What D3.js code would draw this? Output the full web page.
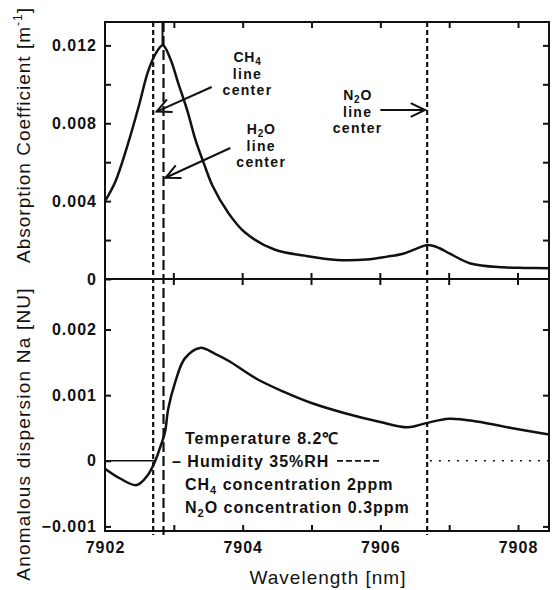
<!DOCTYPE html>
<html>
<head>
<meta charset="utf-8">
<script src="https://cdn.jsdelivr.net/npm/d3@7"></script>
<style>
  body { margin: 0; background: #fff; }
  svg { display: block; }
  text { font-family: "Liberation Sans", Arial, sans-serif; fill: #111; }
</style>
</head>
<body>
<svg id="chart"></svg>
<script>
// wavelength axis
const xTicks = [7902, 7903, 7904, 7905, 7906, 7907, 7908];
const xTickLabels = [7902, 7904, 7906, 7908];

// top panel: absorption coefficient [m^-1]
const absWavelength = [7902.0, 7902.15, 7902.33, 7902.5, 7902.62, 7902.74, 7902.84, 7902.95, 7903.06, 7903.2,
  7903.31, 7903.44, 7903.56, 7903.79, 7904.03, 7904.47, 7904.9, 7905.37, 7905.8, 7906.1,
  7906.33, 7906.52, 7906.69, 7906.86, 7907.01, 7907.31, 7907.78, 7908.1, 7908.45];
const absCoef = [0.0040, 0.0050, 0.0069, 0.0090, 0.0106, 0.0116, 0.0120, 0.0113, 0.0101, 0.0086,
  0.0072, 0.0059, 0.0048, 0.0034, 0.0024, 0.0015, 0.0012, 0.00098, 0.0010, 0.00115,
  0.0013, 0.00155, 0.00174, 0.00158, 0.0013, 0.0008, 0.0006, 0.00057, 0.00055];
const absTicks = [0, 0.004, 0.008, 0.012];
const absMinorTicks = [0.002, 0.006, 0.010];

// bottom panel: anomalous dispersion Na [NU]
const dispWavelength = [7902.0, 7902.22, 7902.46, 7902.62, 7902.73, 7902.8, 7902.87, 7902.92, 7903.02, 7903.16,
  7903.38, 7903.6, 7903.8, 7904.2, 7904.6, 7905.0, 7905.5, 7906.0, 7906.4, 7906.65,
  7907.0, 7907.4, 7907.9, 7908.45];
const anomDisp = [-0.00012, -0.00027, -0.00037, -0.00022, 0.0, 0.0002, 0.00043, 0.0008, 0.0012, 0.00156,
  0.00172, 0.00163, 0.00152, 0.00125, 0.00105, 0.00088, 0.00072, 0.00059, 0.00051, 0.00057,
  0.00064, 0.0006, 0.0005, 0.0004];
const dispTicks = [-0.001, 0, 0.001, 0.002];

// line centers
const lineNames = ["CH4", "H2O", "N2O"];
const lineCenters = [7902.70, 7902.85, 7906.68];
const lineDash = ["5,3", "10,4", "5,3"];

// measurement conditions
const conditionLines = [["Temperature 8.2℃"], ["– Humidity 35%RH"], ["CH", "4", " concentration 2ppm"], ["N", "2", "O concentration 0.3ppm"]];

const width = 553, height = 590;
const pLeft = 105, pRight = 549, pTop = 22, pMid = 279, pBottom = 531;

const svg = d3.select("#chart").attr("width", width).attr("height", height);

const x = d3.scaleLinear().domain([7902, 7908.45]).range([pLeft, pRight]);
const yAbs = d3.scaleLinear().domain([0, 0.0132]).range([pMid, pTop]);
const yDisp = d3.scaleLinear().domain([-0.00107, 0.00277]).range([pBottom, pMid]);

const fmt = d => d === 0 ? "0" : d3.format(".3f")(d);

function styleAxis(g) {
  g.select(".domain").remove();
  g.selectAll(".tick line").attr("stroke", "#111").attr("stroke-width", 2);
  g.selectAll(".tick text").attr("font-size", 16).attr("font-weight", "bold")
    .attr("letter-spacing", 1).attr("fill", "#111")
    .style("font-family", '"Liberation Sans", Arial, sans-serif');
}

// left axes (ticks inward)
svg.append("g").attr("transform", `translate(${pLeft},0)`)
  .call(d3.axisLeft(yAbs).tickValues(absTicks).tickSize(-6).tickPadding(8).tickFormat(fmt)).call(styleAxis);
svg.append("g").attr("transform", `translate(${pLeft},0)`)
  .call(d3.axisLeft(yAbs).tickValues(absMinorTicks).tickSize(-6).tickFormat("")).call(styleAxis);
svg.append("g").attr("transform", `translate(${pLeft},0)`)
  .call(d3.axisLeft(yDisp).tickValues(dispTicks).tickSize(-6).tickPadding(8).tickFormat(fmt)).call(styleAxis);

// right axes
svg.append("g").attr("transform", `translate(${pRight},0)`)
  .call(d3.axisRight(yAbs).tickValues(absTicks.concat(absMinorTicks).filter(d => d > 0)).tickSize(-6).tickFormat("")).call(styleAxis);
svg.append("g").attr("transform", `translate(${pRight},0)`)
  .call(d3.axisRight(yDisp).tickValues(dispTicks.filter(d => d !== 0)).tickSize(-6).tickFormat("")).call(styleAxis);

// top and bottom axes
svg.append("g").attr("transform", `translate(0,${pTop})`)
  .call(d3.axisTop(x).tickValues(xTicks.slice(1)).tickSize(-6).tickFormat("")).call(styleAxis);
svg.append("g").attr("transform", `translate(0,${pBottom})`)
  .call(d3.axisBottom(x).tickValues(xTicks.slice(1)).tickSize(-6).tickFormat("")).call(styleAxis);
svg.append("g").attr("transform", `translate(0,${pBottom})`)
  .call(d3.axisBottom(x).tickValues(xTickLabels).tickSize(0).tickPadding(11).tickFormat(d3.format("d"))).call(styleAxis);

// panel boundary ticks cross both ways
svg.append("g").selectAll("line").data(xTicks.slice(1)).join("line")
  .attr("x1", d => x(d)).attr("x2", d => x(d))
  .attr("y1", pMid - 6).attr("y2", pMid + 6)
  .attr("stroke", "#111").attr("stroke-width", 2);

// frames
svg.append("rect").attr("x", pLeft).attr("y", pTop).attr("width", pRight - pLeft).attr("height", pBottom - pTop)
  .attr("fill", "none").attr("stroke", "#111").attr("stroke-width", 2);
svg.append("line").attr("x1", pLeft).attr("x2", pRight).attr("y1", pMid).attr("y2", pMid)
  .attr("stroke", "#111").attr("stroke-width", 2);

// zero reference in lower panel
const zeroSegs = [[7902, 7902.72, null], [7905.37, 7906.0, "6,3"], [7906.72, 7908.45, "2,7"]];
svg.append("g").selectAll("line").data(zeroSegs).join("line")
  .attr("x1", d => x(d[0])).attr("x2", d => x(d[1]))
  .attr("y1", yDisp(0)).attr("y2", yDisp(0))
  .attr("stroke", "#111").attr("stroke-width", 1.5)
  .attr("stroke-dasharray", d => d[2]);

// line center markers
svg.append("g").selectAll("line").data(lineCenters).join("line")
  .attr("x1", d => x(d)).attr("x2", d => x(d))
  .attr("y1", pTop).attr("y2", pBottom + 4)
  .attr("stroke", "#111").attr("stroke-width", 2.2)
  .attr("stroke-dasharray", (d, i) => lineDash[i]);
// solid piece above the absorption peak
svg.append("line").attr("x1", x(lineCenters[1]) - 1).attr("x2", x(lineCenters[1]) - 1)
  .attr("y1", pTop).attr("y2", yAbs(d3.max(absCoef)))
  .attr("stroke", "#111").attr("stroke-width", 2);

// curves
const absLine = d3.line().x(d => x(d[0])).y(d => yAbs(d[1])).curve(d3.curveCatmullRom.alpha(0.5));
svg.append("path").datum(d3.zip(absWavelength, absCoef)).attr("d", absLine)
  .attr("fill", "none").attr("stroke", "#111").attr("stroke-width", 2.5);

const dispLine = d3.line().x(d => x(d[0])).y(d => yDisp(d[1])).curve(d3.curveCatmullRom.alpha(0.5));
svg.append("path").datum(d3.zip(dispWavelength, anomDisp)).attr("d", dispLine)
  .attr("fill", "none").attr("stroke", "#111").attr("stroke-width", 2.5);

// annotation labels "X line center"
function chemLabel(g, name, cx, cy) {
  const t = g.append("text").attr("x", cx).attr("y", cy).attr("text-anchor", "middle")
    .attr("font-size", 14).attr("font-weight", "bold").attr("letter-spacing", 0.8);
  const m = name.match(/^([A-Z]+)(\d)(.*)$/);
  t.append("tspan").text(m[1]);
  t.append("tspan").attr("font-size", 10).attr("dy", 3).text(m[2]);
  t.append("tspan").attr("dy", -3).text(m[3]);
  g.append("text").attr("x", cx).attr("y", cy + 17).attr("text-anchor", "middle")
    .attr("font-size", 14).attr("font-weight", "bold").attr("letter-spacing", 1.3).text("line");
  g.append("text").attr("x", cx).attr("y", cy + 33).attr("text-anchor", "middle")
    .attr("font-size", 14).attr("font-weight", "bold").attr("letter-spacing", 1.3).text("center");
}
const ann = svg.append("g");
chemLabel(ann, lineNames[0], x(7904.07), 62);
chemLabel(ann, lineNames[1], x(7904.27), 134);
chemLabel(ann, lineNames[2], x(7905.67), 100);

// arrows [from λ, from value, to λ, to value]
const arrows = [
  [7903.55, 0.00986, lineCenters[0] + 0.05, 0.0086],
  [7903.82, 0.00673, lineCenters[1] + 0.03, 0.0052],
  [7906.0, 0.00868, lineCenters[2] - 0.03, 0.00868]
];
arrows.forEach(a => {
  const x1 = x(a[0]), y1 = yAbs(a[1]), x2 = x(a[2]), y2 = yAbs(a[3]);
  const ang = Math.atan2(y2 - y1, x2 - x1), L = 16, spread = 0.45;
  ann.append("line").attr("x1", x1).attr("y1", y1).attr("x2", x2).attr("y2", y2)
    .attr("stroke", "#111").attr("stroke-width", 2);
  ann.append("path")
    .attr("d", `M${x2 - L * Math.cos(ang - spread)},${y2 - L * Math.sin(ang - spread)}L${x2},${y2}L${x2 - L * Math.cos(ang + spread)},${y2 - L * Math.sin(ang + spread)}`)
    .attr("fill", "none").attr("stroke", "#111").attr("stroke-width", 2);
});

// conditions
const cond = svg.append("g");
conditionLines.forEach((parts, i) => {
  const t = cond.append("text").attr("x", i === 1 ? 172 : 185).attr("y", 444 + i * 23)
    .attr("font-size", 16).attr("font-weight", "bold").attr("letter-spacing", 1);
  parts.forEach((p, j) => {
    const s = t.append("tspan").text(p);
    if (parts.length > 1 && j === 1) s.attr("font-size", 11).attr("dy", 4);
    if (parts.length > 1 && j === 2) s.attr("dy", -4);
  });
});
cond.append("line").attr("x1", 337).attr("x2", 380).attr("y1", yDisp(0)).attr("y2", yDisp(0))
  .attr("stroke", "#111").attr("stroke-width", 1.5).attr("stroke-dasharray", "6,3");

// axis titles
const t1 = svg.append("text").attr("transform", "translate(30,135) rotate(-90)")
  .attr("text-anchor", "middle").attr("font-size", 19).attr("letter-spacing", 1);
t1.append("tspan").text("Absorption Coefficient [m");
t1.append("tspan").attr("font-size", 12).attr("dy", -8).text("-1");
t1.append("tspan").attr("dy", 8).text("]");

svg.append("text").attr("transform", "translate(30,434) rotate(-90)")
  .attr("text-anchor", "middle").attr("font-size", 19).attr("letter-spacing", 1.2)
  .text("Anomalous dispersion Na [NU]");

svg.append("text").attr("x", 328).attr("y", 584).attr("text-anchor", "middle")
  .attr("font-size", 19).attr("letter-spacing", 1).text("Wavelength [nm]");
</script>
</body>
</html>
